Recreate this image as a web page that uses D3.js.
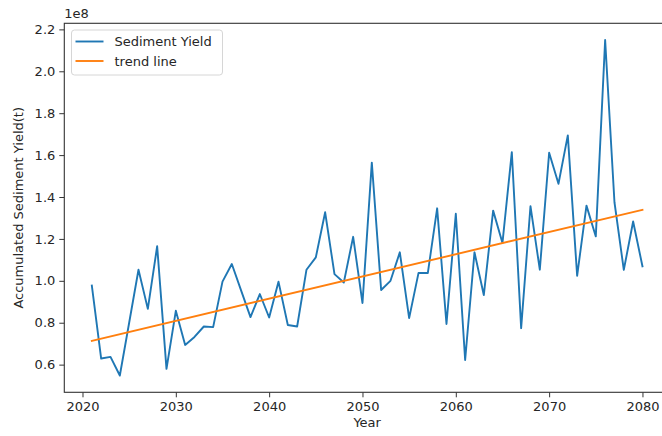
<!DOCTYPE html>
<html>
<head>
<meta charset="utf-8">
<script src="https://cdn.jsdelivr.net/npm/d3@7"></script>
<style>
  html, body { margin: 0; padding: 0; background: #fff; }
  svg { display: block; font-family: "DejaVu Sans", sans-serif; }
</style>
</head>
<body>
<svg id="chart" width="662" height="436"></svg>
<script>
// Annual accumulated sediment yield (units of 1e8 t), 2021-2080
const years = d3.range(2021, 2081);
const sedimentYield = [
  0.977, 0.629, 0.637, 0.548, 0.800, 1.053, 0.866, 1.165, 0.580, 0.857,
  0.694, 0.732, 0.782, 0.779, 0.996, 1.080, 0.953, 0.827, 0.937, 0.825,
  0.996, 0.789, 0.782, 1.053, 1.112, 1.327, 1.032, 0.992, 1.210, 0.894,
  1.564, 0.956, 1.000, 1.136, 0.822, 1.037, 1.037, 1.346, 0.794, 1.320,
  0.622, 1.136, 0.932, 1.335, 1.181, 1.614, 0.774, 1.356, 1.053, 1.611,
  1.463, 1.694, 1.024, 1.359, 1.212, 2.149, 1.375, 1.052, 1.283, 1.069
];
// Linear trend: values at the first and last year
const trendYears = [2021, 2080];
const trendValues = [0.713, 1.339];

const xTicks = [2020, 2030, 2040, 2050, 2060, 2070, 2080];
const yTicks = [0.6, 0.8, 1.0, 1.2, 1.4, 1.6, 1.8, 2.0, 2.2];
const legendLabels = ["Sediment Yield", "trend line"];
const seriesColors = ["#1f77b4", "#ff7f0e"];

const svg = d3.select("#chart");
const plot = { left: 64.3, right: 670, top: 23.3, bottom: 392.3 };
const textColor = "#262626";
const fontSize = 13;

// axis limits with 5% padding around the data, as in matplotlib
function padded(ext) {
  const m = (ext[1] - ext[0]) * 0.05;
  return [ext[0] - m, ext[1] + m];
}
const x = d3.scaleLinear()
  .domain(padded(d3.extent(years)))
  .range([plot.left, plot.right]);
const y = d3.scaleLinear()
  .domain(padded(d3.extent(sedimentYield)))
  .range([plot.bottom, plot.top]);

// series lines
const line = d3.line().x(d => x(d[0])).y(d => y(d[1]));
svg.append("path")
  .datum(years.map((yr, i) => [yr, sedimentYield[i]]))
  .attr("d", line)
  .attr("fill", "none")
  .attr("stroke", seriesColors[0])
  .attr("stroke-width", 1.9)
  .attr("stroke-linejoin", "round")
  .attr("stroke-linecap", "square");
svg.append("path")
  .datum(trendYears.map((yr, i) => [yr, trendValues[i]]))
  .attr("d", line)
  .attr("fill", "none")
  .attr("stroke", seriesColors[1])
  .attr("stroke-width", 1.9)
  .attr("stroke-linecap", "square");

// axes
const xAxis = d3.axisBottom(x).tickValues(xTicks).tickFormat(d3.format("d"))
  .tickSizeOuter(0).tickSizeInner(5).tickPadding(4);
const yAxis = d3.axisLeft(y).tickValues(yTicks).tickFormat(d3.format(".1f"))
  .tickSizeOuter(0).tickSizeInner(5).tickPadding(4);

const gx = svg.append("g").attr("transform", `translate(0,${plot.bottom})`).call(xAxis);
const gy = svg.append("g").attr("transform", `translate(${plot.left},0)`).call(yAxis);
[gx, gy].forEach(g => {
  g.select(".domain").remove();
  g.selectAll(".tick line").attr("stroke", "#333").attr("stroke-width", 1);
  g.selectAll(".tick text")
    .attr("fill", textColor)
    .style("font-size", fontSize + "px")
    .style("font-family", "DejaVu Sans, sans-serif");
});

// spines (right side lies beyond the visible area)
svg.append("rect")
  .attr("x", plot.left).attr("y", plot.top)
  .attr("width", plot.right - plot.left).attr("height", plot.bottom - plot.top)
  .attr("fill", "none").attr("stroke", "#333").attr("stroke-width", 1.1);

// offset text for the y axis
svg.append("text")
  .attr("x", plot.left).attr("y", 18)
  .attr("fill", textColor).style("font-size", fontSize + "px")
  .text("1e8");

// axis titles
svg.append("text")
  .attr("x", (plot.left + plot.right) / 2).attr("y", 427)
  .attr("text-anchor", "middle")
  .attr("fill", textColor).style("font-size", fontSize + "px")
  .text("Year");
svg.append("text")
  .attr("transform", `translate(23,${(plot.top + plot.bottom) / 2}) rotate(-90)`)
  .attr("text-anchor", "middle")
  .attr("fill", textColor).style("font-size", fontSize + "px")
  .text("Accumulated Sediment Yield(t)");

// legend
const legend = svg.append("g").attr("transform", "translate(71.5,30)");
legend.append("rect")
  .attr("width", 151).attr("height", 45).attr("rx", 3)
  .attr("fill", "#fff").attr("fill-opacity", 0.8)
  .attr("stroke", "#d6d6d6").attr("stroke-width", 1);
legendLabels.forEach((lab, i) => {
  const cy = 11.5 + i * 19.5;
  legend.append("line")
    .attr("x1", 4).attr("x2", 32).attr("y1", cy).attr("y2", cy)
    .attr("stroke", seriesColors[i]).attr("stroke-width", 1.9);
  legend.append("text")
    .attr("x", 43).attr("y", cy + 4.5)
    .attr("fill", textColor).style("font-size", fontSize + "px")
    .text(lab);
});
</script>
</body>
</html>
